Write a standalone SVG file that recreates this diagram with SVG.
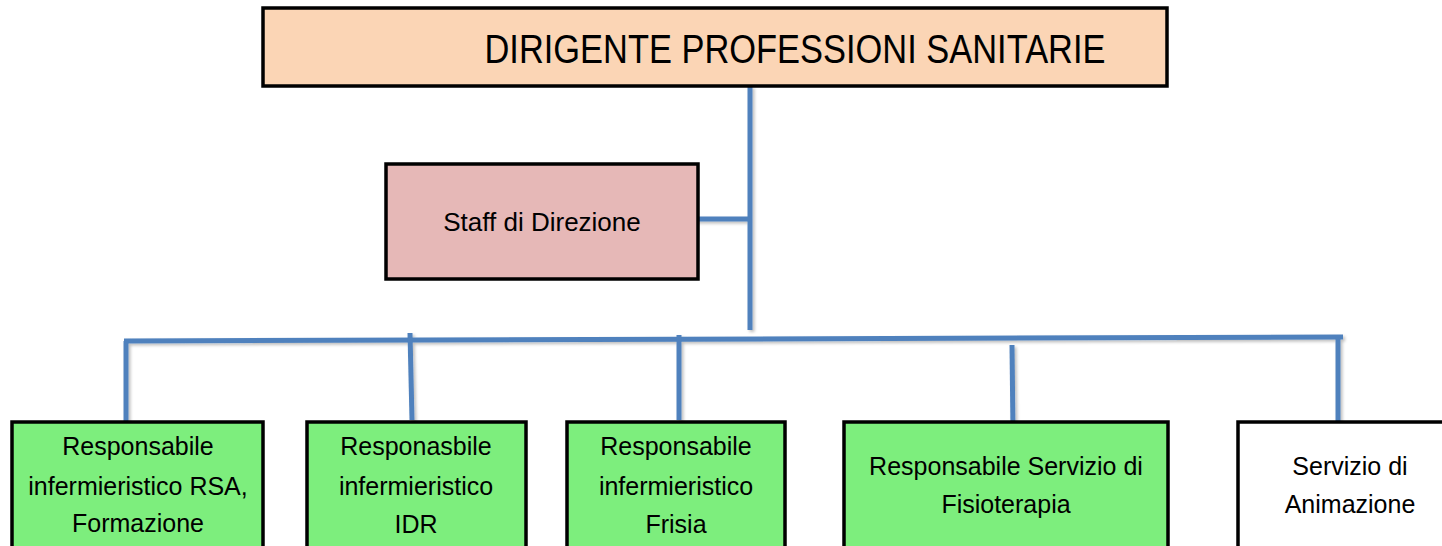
<svg xmlns="http://www.w3.org/2000/svg" width="1442" height="546" viewBox="0 0 1442 546">
<style>
.box{stroke:#000;stroke-width:3.5}
.top{fill:#FBD5B5}
.staff{fill:#E6B8B7}
.green{fill:#7DEE7D}
.white{fill:#FFFFFF}
.t{font-family:"Liberation Sans",Arial,sans-serif;fill:#000;text-anchor:middle}
.conn line{stroke:#4F81BD;stroke-width:5;stroke-linecap:butt}
</style>
<defs>
<filter id="shadow" x="-5%" y="-5%" width="110%" height="110%">
<feDropShadow dx="2" dy="2" stdDeviation="1.5" flood-color="#000" flood-opacity="0.25"/>
</filter>
</defs>
<rect width="1442" height="546" fill="#fff"/>
<g id="connectors" class="conn" filter="url(#shadow)">
<line x1="750" y1="86" x2="750" y2="330"/>
<line x1="694" y1="219" x2="750" y2="219"/>
<line x1="124" y1="341" x2="1343" y2="337"/>
<line x1="126" y1="341" x2="126" y2="425"/>
<line x1="410" y1="333" x2="412" y2="420"/>
<line x1="679" y1="335" x2="679" y2="420"/>
<line x1="1012" y1="345" x2="1013" y2="432"/>
<line x1="1338" y1="337" x2="1338" y2="423"/>
</g>
<g id="node-dirigente">
<rect class="box top" x="263" y="8" width="904" height="78"/>
<text class="t" x="795" y="63" font-size="40" textLength="621" lengthAdjust="spacingAndGlyphs">DIRIGENTE PROFESSIONI SANITARIE</text>
</g>
<g id="node-staff">
<rect class="box staff" x="386" y="164" width="312" height="115"/>
<text class="t" x="542" y="231" font-size="26">Staff di Direzione</text>
</g>
<g id="node-rsa">
<rect class="box green" x="12" y="422" width="251" height="140"/>
<text class="t" x="138" y="455" font-size="25">Responsabile</text>
<text class="t" x="138" y="495" font-size="25">infermieristico RSA,</text>
<text class="t" x="138" y="532" font-size="25">Formazione</text>
</g>
<g id="node-idr">
<rect class="box green" x="307" y="422" width="219" height="140"/>
<text class="t" x="416" y="455" font-size="25">Responasbile</text>
<text class="t" x="416" y="495" font-size="25">infermieristico</text>
<text class="t" x="416" y="533" font-size="25">IDR</text>
</g>
<g id="node-frisia">
<rect class="box green" x="567" y="422" width="218" height="140"/>
<text class="t" x="676" y="455" font-size="25">Responsabile</text>
<text class="t" x="676" y="495" font-size="25">infermieristico</text>
<text class="t" x="676" y="533" font-size="25">Frisia</text>
</g>
<g id="node-fisioterapia">
<rect class="box green" x="844" y="422" width="324" height="140"/>
<text class="t" x="1006" y="475" font-size="25">Responsabile Servizio di</text>
<text class="t" x="1006" y="513" font-size="25">Fisioterapia</text>
</g>
<g id="node-animazione">
<rect class="box white" x="1238" y="422" width="230" height="140"/>
<text class="t" x="1350" y="475" font-size="25">Servizio di</text>
<text class="t" x="1350" y="513" font-size="25">Animazione</text>
</g>
</svg>
